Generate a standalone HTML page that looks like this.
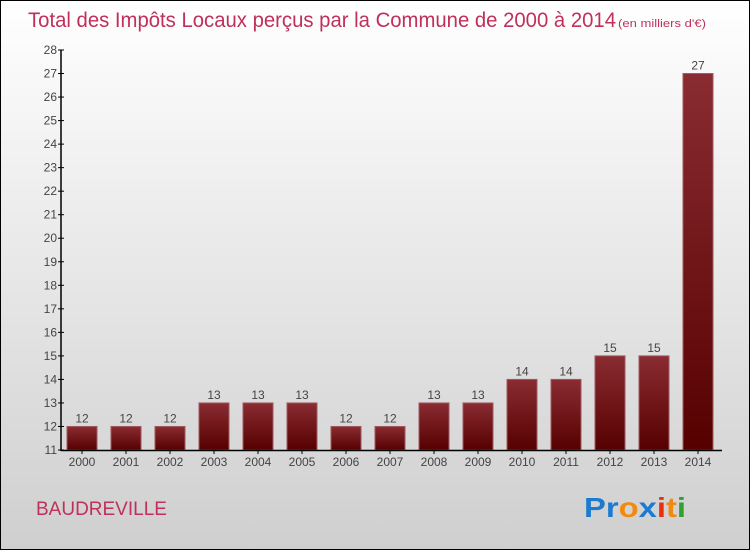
<!DOCTYPE html>
<html><head><meta charset="utf-8"><style>
html,body{margin:0;padding:0}
body{width:750px;height:550px;overflow:hidden;font-family:"Liberation Sans",sans-serif}
#frame{position:absolute;left:0;top:0;width:748px;height:548px;border:1px solid #000;background:linear-gradient(#ffffff,#cfcfcf)}
</style></head><body>
<div id="frame">
<svg width="748" height="548" xmlns="http://www.w3.org/2000/svg" id="svg">
<defs><linearGradient id="bg" x1="0" y1="0" x2="0" y2="1"><stop offset="0" stop-color="#8a2c32"/><stop offset="1" stop-color="#560000"/></linearGradient></defs>
<text x="27" y="26" font-size="21" fill="#c0305a" textLength="588" lengthAdjust="spacingAndGlyphs">Total des Impôts Locaux perçus par la Commune de 2000 à 2014</text>
<text x="617" y="26" font-size="11" fill="#c0305a" textLength="88" lengthAdjust="spacingAndGlyphs">(en milliers d'€)</text>
<text x="35" y="514" font-size="19" fill="#c0305a">BAUDREVILLE</text>
<g font-size="28" font-weight="bold" font-family="Liberation Sans, sans-serif">
<text x="583" y="516" textLength="102" lengthAdjust="spacingAndGlyphs"><tspan fill="#1c7ad0">Pr</tspan><tspan fill="#f08a10">o</tspan><tspan fill="#1c7ad0">x</tspan><tspan fill="#e83010">i</tspan><tspan fill="#f08a10">t</tspan><tspan fill="#30a030">i</tspan></text>
</g>
<g id="plot"></g>
</svg>
</div>
<script>
const years=["2000","2001","2002","2003","2004","2005","2006","2007","2008","2009","2010","2011","2012","2013","2014"];
const values=[12,12,12,13,13,13,12,12,13,13,14,14,15,15,27];
const yTicks=[11,12,13,14,15,16,17,18,19,20,21,22,23,24,25,26,27,28];
const yMin=11,yMax=28;
function y(v){return 449-(v-yMin)*(400/(yMax-yMin));}
function x(i){return 81+i*44;}
const ns="http://www.w3.org/2000/svg";
const g=document.getElementById('plot');
function el(t,a,txt){const e=document.createElementNS(ns,t);for(const k in a)e.setAttribute(k,a[k]);if(txt!==undefined)e.textContent=txt;g.appendChild(e);return e;}
values.forEach((v,i)=>{
 const r=el('rect',{x:x(i)-15,y:y(v),width:30,height:y(yMin)-y(v),fill:'url(#bg)',stroke:'#a05a60','stroke-width':1});
 
 
 const t=el('text',{x:x(i),y:y(v)-4,'font-size':12,'text-anchor':'middle',fill:'#444'},String(v));
 
 
 const xl=el('text',{x:x(i),y:465,'font-size':12,'text-anchor':'middle',fill:'#444'},years[i]);
 
 
 el('line',{x1:x(i),x2:x(i),y1:449,y2:453,stroke:'#000'});
});
yTicks.forEach(v=>{
 el('line',{x1:57,x2:63,y1:y(v),y2:y(v),stroke:'#000'});
 const t=el('text',{x:56,y:y(v)+4,'font-size':12,'text-anchor':'end',fill:'#444'},String(v));
 
 
});
const ya=el('line',{x1:60,x2:60,y1:49,y2:450,stroke:'#000','stroke-width':1.5});


const xa=el('line',{x1:60,x2:721,y1:449.5,y2:449.5,stroke:'#000','stroke-width':1.5});


</script>
</body></html>
